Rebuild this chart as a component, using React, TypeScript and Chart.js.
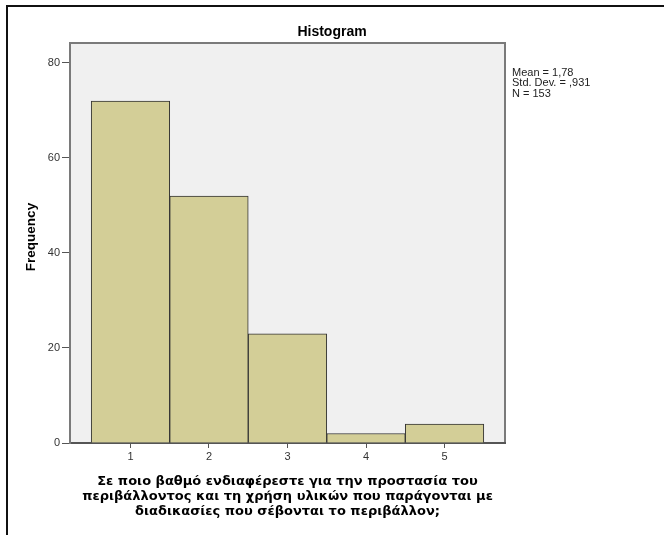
import React, { useEffect, useRef } from 'react';
import { Chart, registerables } from 'chart.js';

Chart.register(...registerables);

const categories = [1, 2, 3, 4, 5];
const frequencies = [72, 52, 23, 2, 4];
const yTickValues = [0, 20, 40, 60, 80];
const xTickValues = [1, 2, 3, 4, 5];
const titleText = 'Histogram';
const yTitle = 'Frequency';
const xTitleLines = [
  'Σε ποιο βαθμό ενδιαφέρεστε για την προστασία του',
  'περιβάλλοντος και τη χρήση υλικών που παράγονται με',
  'διαδικασίες που σέβονται το περιβάλλον;',
];
const statsLines = ['Mean = 1,78', 'Std. Dev. = ,931', 'N = 153'];

const FONT = '"Liberation Sans", Arial, sans-serif';
const XTITLE_FONT = '"DejaVu Sans", Verdana, sans-serif';

const decor = {
  id: 'decor',
  beforeDraw(chart: any) {
    const { ctx, chartArea: a } = chart;
    ctx.save();
    ctx.fillStyle = '#F0F0F0';
    ctx.fillRect(a.left, a.top, a.right - a.left, a.bottom - a.top);
    ctx.strokeStyle = '#7a7a7a';
    ctx.lineWidth = 2;
    ctx.beginPath();
    ctx.moveTo(a.left, a.bottom);
    ctx.lineTo(a.left, a.top);
    ctx.lineTo(a.right, a.top);
    ctx.lineTo(a.right, a.bottom);
    ctx.stroke();
    ctx.fillStyle = '#000';
    ctx.font = `bold 14px ${FONT}`;
    ctx.textAlign = 'center';
    ctx.textBaseline = 'middle';
    ctx.fillText(titleText, 332, 32);
    ctx.save();
    ctx.translate(31, 237);
    ctx.rotate(-Math.PI / 2);
    ctx.font = `bold 13.5px ${FONT}`;
    ctx.fillText(yTitle, 0, 0);
    ctx.restore();
    ctx.font = `11px ${FONT}`;
    ctx.textAlign = 'left';
    ctx.fillStyle = '#222';
    statsLines.forEach((t, i) => ctx.fillText(t, a.right + 7, 73 + i * 10.3));
    ctx.restore();
  },
};

export default function App() {
  const ref = useRef<HTMLCanvasElement | null>(null);
  useEffect(() => {
    if (!ref.current) return;
    const chart = new Chart(ref.current, {
      type: 'bar',
      data: {
        datasets: [
          {
            data: categories.map((c, i) => ({ x: c, y: frequencies[i] })),
            backgroundColor: '#D3CE97',
            borderColor: '#333',
            borderWidth: 1,
            barPercentage: 1,
            categoryPercentage: 1,
          },
        ],
      },
      options: {
        animation: false,
        responsive: false,
        layout: { padding: { left: 0, top: 43, right: 159, bottom: 0 } },
        plugins: { legend: { display: false }, tooltip: { enabled: false }, title: { display: false } },
        scales: {
          x: {
            type: 'linear',
            min: 0.23,
            max: 5.77,
            offset: false,
            afterBuildTicks: (s: any) => {
              s.ticks = xTickValues.map((v) => ({ value: v }));
            },
            afterFit: (s: any) => {
              s.height = 92;
            },
            grid: { offset: false, drawOnChartArea: false, tickLength: 5, tickColor: '#555' },
            border: { color: '#555', width: 2 },
            ticks: { color: '#333', font: { family: FONT, size: 11 }, padding: 2, maxRotation: 0, autoSkip: false },
            title: {
              display: true,
              text: xTitleLines,
              color: '#000',
              font: { family: XTITLE_FONT, size: 13, weight: 'bold', lineHeight: 1.154 },
              padding: { top: 0, bottom: 15.5 },
            },
          },
          y: {
            type: 'linear',
            min: 0,
            max: 84.2,
            afterBuildTicks: (s: any) => {
              s.ticks = yTickValues.map((v) => ({ value: v }));
            },
            afterFit: (s: any) => {
              s.width = 70;
            },
            grid: { drawOnChartArea: false, tickLength: 8, tickColor: '#555' },
            border: { color: '#7a7a7a', width: 2 },
            ticks: { color: '#333', font: { family: FONT, size: 11 }, padding: 2 },
            title: { display: false },
          },
        },
      } as any,
      plugins: [decor],
    });
    return () => chart.destroy();
  }, []);

  return (
    <div
      style={{
        position: 'absolute',
        left: 0,
        top: 0,
        width: 664,
        height: 535,
        overflow: 'hidden',
        background: '#fff',
      }}
    >
      <div
        style={{
          position: 'absolute',
          left: 6,
          top: 5,
          width: 720,
          height: 600,
          borderTop: '2px solid #111',
          borderLeft: '2px solid #111',
        }}
      />
      <canvas ref={ref} width={664} height={535} style={{ position: 'absolute', left: 0, top: 0 }} />
    </div>
  );
}
